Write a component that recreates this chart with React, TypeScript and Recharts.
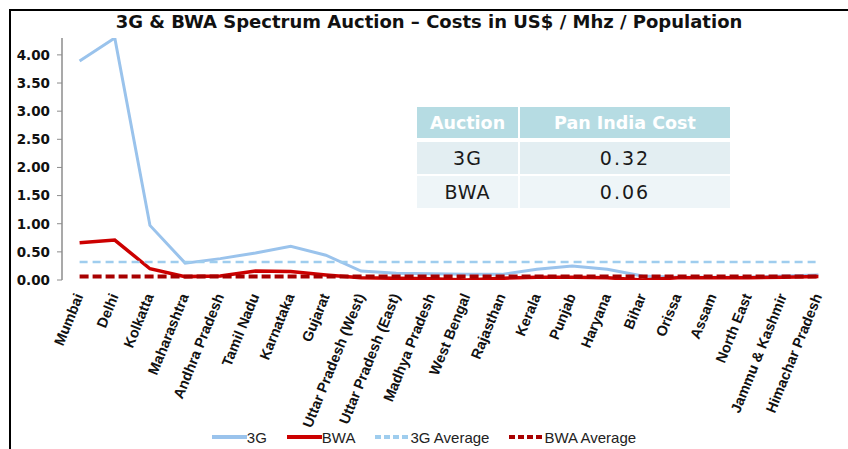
import React from 'react';
import { ComposedChart, Line, XAxis, YAxis, Legend } from 'recharts';

const states = [
  'Mumbai', 'Delhi', 'Kolkatta', 'Maharashtra', 'Andhra Pradesh', 'Tamil Nadu',
  'Karnataka', 'Gujarat', 'Uttar Pradesh (West)', 'Uttar Pradesh (East)',
  'Madhya Pradesh', 'West Bengal', 'Rajasthan', 'Kerala', 'Punjab', 'Haryana',
  'Bihar', 'Orissa', 'Assam', 'North East', 'Jammu & Kashmir', 'Himachar Pradesh',
];
const cost3G = [3.89, 4.3, 0.97, 0.3, 0.38, 0.48, 0.6, 0.44, 0.16, 0.12, 0.11, 0.1, 0.1, 0.19, 0.25, 0.19, 0.07, 0.05, 0.05, 0.05, 0.07, 0.09];
const costBWA = [0.66, 0.71, 0.2, 0.06, 0.07, 0.16, 0.15, 0.09, 0.04, 0.03, 0.02, 0.0, 0.03, 0.05, 0.05, 0.04, 0.0, 0.04, 0.04, 0.04, 0.05, 0.06];
const auctionNames = ['3G', 'BWA'];
const panIndiaCost = [0.32, 0.06];
const yTicks = [0, 0.5, 1, 1.5, 2, 2.5, 3, 3.5, 4];
const seriesOrder = ['g3', 'bwa', 'g3Avg', 'bwaAvg'];
const boundaryTicks = Array.from({ length: states.length + 1 }, (_, i) => i);

const data = states.map((s, i) => ({
  state: s,
  g3: cost3G[i],
  bwa: costBWA[i],
  g3Avg: panIndiaCost[0],
  bwaAvg: panIndiaCost[1],
}));

const W = 848;
const H = 449;
const AXIS = '#8c8c8c';
const BLUE = '#9ac3ec';
const BLUE_AVG = '#9fcdee';
const RED = '#cc0000';
const RED_AVG = '#a80000';

const XTick = (props: any) => {
  const { x, y, payload } = props;
  const ax = x + 4;
  const ay = y + 16;
  return (
    <text
      x={ax}
      y={ay}
      transform={`rotate(-68 ${ax} ${ay})`}
      textAnchor="end"
      fontFamily="'Liberation Sans', Arial, sans-serif"
      fontWeight="bold"
      fontSize={14.5}
      fill="#111"
    >
      {payload.value}
    </text>
  );
};

const renderLegend = (props: any) => {
  const items = (props.payload || []).slice().sort(
    (a: any, b: any) => seriesOrder.indexOf(a.dataKey) - seriesOrder.indexOf(b.dataKey)
  );
  return (
    <div
      style={{
        display: 'flex',
        justifyContent: 'center',
        alignItems: 'center',
        height: 24,
        fontFamily: "'Liberation Sans', Arial, sans-serif",
        fontSize: 15,
        color: '#222',
      }}
    >
      {items.map((e: any, i: number) => (
        <div key={i} style={{ display: 'flex', alignItems: 'center', marginLeft: i ? 20 : 0 }}>
          <svg width={35} height={8} style={{ display: 'block' }}>
            <line
              x1={0}
              y1={4}
              x2={35}
              y2={4}
              stroke={e.color}
              strokeWidth={4}
              strokeDasharray={e.payload && e.payload.strokeDasharray ? '6 3' : undefined}
            />
          </svg>
          <span>{e.value}</span>
        </div>
      ))}
    </div>
  );
};

const cellText: React.CSSProperties = {
  display: 'flex',
  alignItems: 'center',
  justifyContent: 'center',
};

export default function App() {
  return (
    <div
      style={{
        position: 'fixed',
        left: 0,
        top: 0,
        width: W,
        height: H,
        overflow: 'hidden',
        background: '#fff',
      }}
    >
      <ComposedChart width={W} height={H} data={data} margin={{ top: 38, right: 12, bottom: 0, left: 0 }}>
        <XAxis
          xAxisId="grid"
          type="number"
          domain={[0, states.length]}
          ticks={boundaryTicks}
          interval={0}
          tickFormatter={() => ''}
          height={0}
          tickSize={5}
          allowDataOverflow
          axisLine={{ stroke: AXIS, strokeWidth: 1.5 }}
          tickLine={{ stroke: AXIS }}
        />
        <XAxis
          xAxisId="cat"
          dataKey="state"
          type="category"
          scale="point"
          interval={0}
          axisLine={false}
          tickLine={false}
          tickSize={0}
          tickMargin={0}
          height={145}
          padding={{ left: 17.6, right: 17.6 }}
          tick={(p: any) => <XTick {...p} />}
        />
        <YAxis
          domain={[0, 4.3]}
          ticks={yTicks}
          interval={0}
          allowDataOverflow
          width={62}
          tickSize={5}
          tickMargin={7}
          axisLine={{ stroke: AXIS, strokeWidth: 1.5 }}
          tickLine={{ stroke: AXIS }}
          tickFormatter={(v: number) => v.toFixed(2)}
          tick={{ fontFamily: "'DejaVu Sans', sans-serif", fontWeight: 'bold', fontSize: 13.5, fill: '#111' }}
        />
        <Legend
          verticalAlign="bottom"
          height={24}
          content={renderLegend}
          wrapperStyle={{ left: 0, width: W, height: 24 }}
        />
        <Line xAxisId="cat" dataKey="g3" name="3G" stroke={BLUE} strokeWidth={3} dot={false} type="linear" isAnimationActive={false} />
        <Line xAxisId="cat" dataKey="bwa" name="BWA" stroke={RED} strokeWidth={3.5} dot={false} type="linear" isAnimationActive={false} />
        <Line xAxisId="cat" dataKey="g3Avg" name="3G Average" stroke={BLUE_AVG} strokeWidth={2.5} strokeDasharray="8 5" dot={false} type="linear" isAnimationActive={false} />
        <Line xAxisId="cat" dataKey="bwaAvg" name="BWA Average" stroke={RED_AVG} strokeWidth={4} strokeDasharray="9 4" dot={false} type="linear" isAnimationActive={false} />
      </ComposedChart>

      <div
        style={{
          position: 'absolute',
          left: 10,
          top: 12,
          width: 838,
          textAlign: 'center',
          fontFamily: "'DejaVu Sans', sans-serif",
          fontWeight: 'bold',
          fontSize: 18,
          lineHeight: '20px',
          color: '#111',
        }}
      >
        3G &amp; BWA Spectrum Auction – Costs in US$ / Mhz / Population
      </div>

      <div style={{ position: 'absolute', left: 417, top: 107, width: 313 }}>
        <div style={{ display: 'flex', height: 31, marginBottom: 4 }}>
          <div
            style={{
              ...cellText,
              width: 101,
              marginRight: 2,
              background: '#b6dce3',
              color: '#fff',
              fontFamily: "'DejaVu Sans', sans-serif",
              fontWeight: 'bold',
              fontSize: 17.5,
            }}
          >
            Auction
          </div>
          <div
            style={{
              ...cellText,
              flex: 1,
              background: '#b6dce3',
              color: '#fff',
              fontFamily: "'DejaVu Sans', sans-serif",
              fontWeight: 'bold',
              fontSize: 17.5,
            }}
          >
            Pan India Cost
          </div>
        </div>
        {auctionNames.map((name, i) => (
          <div key={name} style={{ display: 'flex', height: 32, marginBottom: 2 }}>
            <div
              style={{
                ...cellText,
                width: 101,
                marginRight: 2,
                background: i === 0 ? '#e3eef2' : '#eef5f8',
                color: '#1a1a1a',
                fontFamily: "'DejaVu Sans', sans-serif",
                fontSize: 19,
                letterSpacing: 1,
              }}
            >
              {name}
            </div>
            <div
              style={{
                ...cellText,
                flex: 1,
                background: i === 0 ? '#e3eef2' : '#eef5f8',
                color: '#1a1a1a',
                fontFamily: "'DejaVu Sans', sans-serif",
                fontSize: 19,
                letterSpacing: 2,
              }}
            >
              {panIndiaCost[i].toFixed(2)}
            </div>
          </div>
        ))}
      </div>

      <div
        style={{
          position: 'absolute',
          left: 9,
          top: 9,
          right: -4,
          bottom: -4,
          borderLeft: '2px solid #000',
          borderTop: '2px solid #000',
          pointerEvents: 'none',
        }}
      />
    </div>
  );
}
